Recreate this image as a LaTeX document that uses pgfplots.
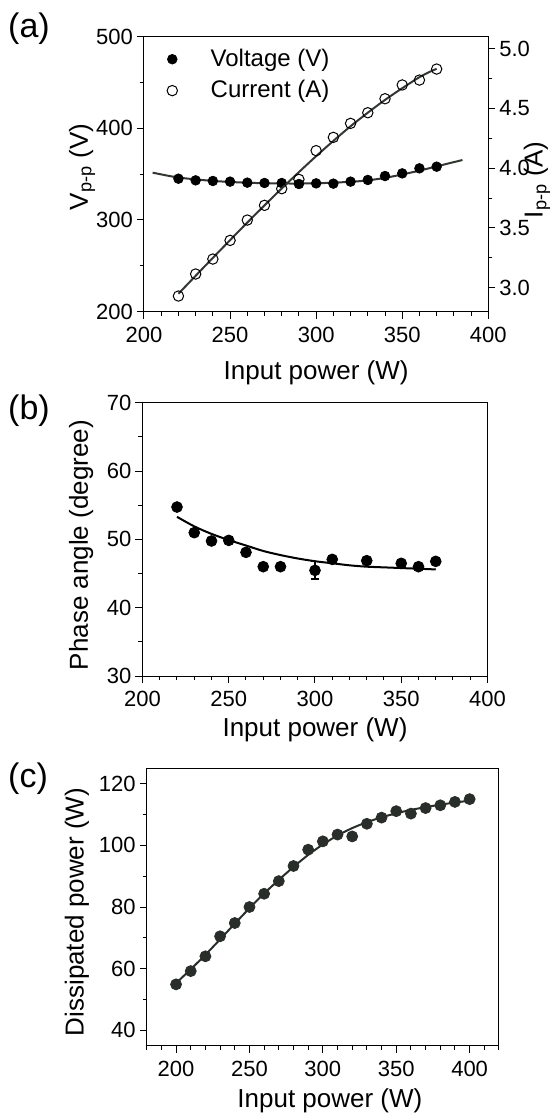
\documentclass[border=0pt]{standalone}
\usepackage{fontspec}
\setmainfont{Liberation Sans}
\usepackage{pgfplots}
\pgfplotsset{compat=1.18}

\definecolor{fitgray}{HTML}{333833}
\definecolor{markgray}{HTML}{2A2E2B}

\newcommand{\labfont}{\fontsize{13}{15}\selectfont}

\pgfplotsset{
  panel/.style={
    scale only axis,
    tick align=outside,
    xtick pos=left, ytick pos=left,
    major tick length=3.5pt, minor tick length=2pt,
    every tick/.style={black, line width=0.5pt},
    axis line style={line width=0.5pt},
    tick label style={font=\fontsize{11}{13}\selectfont},
    xticklabel shift=0.5pt, yticklabel shift=-1.5pt,
    /pgf/number format/assume math mode=true,
  },
}

\begin{document}
\begin{tikzpicture}
\path[use as bounding box] (0pt,0pt) rectangle (279.5pt,-557.5pt);

% ---------- (a) ----------
\begin{axis}[panel,
  at={(72pt,-18.25pt)}, anchor=north west,
  width=172.15pt, height=137.6pt,
  xmin=200, xmax=400, xtick={200,250,...,400}, minor xtick={200,210,...,400},
  ymin=200, ymax=500, ytick={200,300,400,500}, minor ytick={250,350,450},
  xlabel={Input power (W)},
  ylabel={V\textsubscript{p-p} (V)},
  every axis x label/.style={at={(axis description cs:0.5,-0.248)}, anchor=base, font=\labfont},
  every axis y label/.style={at={(axis description cs:-0.18,0.526)}, rotate=90, anchor=center, font=\labfont},
  legend style={draw=none, fill=none, font=\fontsize{12}{14}\selectfont,
    at={(axis description cs:0.045,0.985)}, anchor=north west, row sep=1.5pt},
  legend image code/.code={\path (0pt,0pt) (20pt,0pt); \draw[#1] plot coordinates {(3pt,0pt)};},
]
\addplot[fitgray, line width=1pt, smooth, forget plot] coordinates {
  (205,351.6) (220,346.3) (240,342.6) (260,340.6) (280,339.8) (300,340.0)
  (320,341.6) (330,343.2) (340,345.9) (350,349.6) (360,353.8) (370,358.4) (385,365.4)
};
\addplot[only marks, mark=*, mark size=2.4pt, black] coordinates {
  (220,345.0) (230,343.2) (240,342.5) (250,341.8) (260,340.7) (270,340.3)
  (280,340.3) (290,339.2) (300,339.9) (310,339.6) (320,341.8) (330,343.6)
  (340,347.9) (350,350.8) (360,356.3) (370,358.1)
};
\addlegendentry{Voltage (V)}
\addlegendimage{only marks, mark=o, mark size=2.6pt, black, mark options={line width=0.5pt}}
\addlegendentry{Current (A)}
\end{axis}

\begin{axis}[panel,
  at={(72pt,-18.25pt)}, anchor=north west,
  width=172.15pt, height=137.6pt,
  axis x line=none, axis y line*=right, ytick pos=right,
  xmin=200, xmax=400,
  ymin=2.8, ymax=5.1, ytick={3,3.5,...,5}, minor ytick={3.25,3.75,4.25,4.75},
  yticklabel style={/pgf/number format/.cd, fixed, fixed zerofill, precision=1},
  ylabel={I\textsubscript{p-p} (A)},
  every axis y label/.style={at={(axis description cs:1.1414,0.4786)}, rotate=90, anchor=center, font=\labfont},
]
\addplot[fitgray, line width=1pt, smooth] coordinates {
  (220,2.95) (240,3.25) (260,3.545) (280,3.83) (300,4.10) (320,4.35)
  (340,4.57) (360,4.76) (370,4.83)
};
\addplot[only marks, mark=o, mark size=2.6pt, black, mark options={line width=0.5pt}] coordinates {
  (220,2.931) (230,3.115) (240,3.240) (250,3.396) (260,3.566) (270,3.689)
  (280,3.828) (290,3.906) (300,4.146) (310,4.257) (320,4.374) (330,4.463)
  (340,4.580) (350,4.695) (360,4.736) (370,4.828)
};
\end{axis}

% ---------- (b) ----------
\begin{axis}[panel,
  at={(71.25pt,-201.35pt)}, anchor=north west,
  width=172.5pt, height=136.65pt,
  xmin=200, xmax=400, xtick={200,250,...,400}, minor xtick={200,210,...,400},
  ymin=30, ymax=70, ytick={30,40,...,70}, minor ytick={35,45,...,65},
  xlabel={Input power (W)},
  ylabel={Phase angle (degree)},
  every axis x label/.style={at={(axis description cs:0.5,-0.223)}, anchor=base, font=\labfont},
  every axis y label/.style={at={(axis description cs:-0.178,0.479)}, rotate=90, anchor=center, font=\labfont},
]
\addplot[black, line width=1pt, smooth] coordinates {
  (220,53.3) (230,51.9) (240,50.8) (250,49.9) (260,49.1) (270,48.3) (280,47.7)
  (290,47.2) (300,46.8) (310,46.5) (320,46.2) (330,46.0) (340,45.9) (350,45.8)
  (360,45.7) (370,45.6)
};
\addplot[only marks, mark=*, mark size=2.7pt, black,
  error bars/.cd, y dir=both, y explicit,
  error bar style={line width=0.8pt},
  error mark options={rotate=90, mark size=2pt, line width=0.8pt}]
  table[x=x, y=y, y error=e] {
x    y      e
220  54.73  0
230  50.98  0
240  49.76  0
250  49.85  0
260  48.10  0
270  46.00  0
280  46.00  0
300  45.46  1.3
310  47.07  0
330  46.88  0
350  46.49  0
360  46.00  0
370  46.78  0
};
\end{axis}

% ---------- (c) ----------
\begin{axis}[panel,
  at={(73.35pt,-384.15pt)}, anchor=north west,
  width=176.15pt, height=138.7pt,
  xmin=180, xmax=420, xtick={200,250,...,400}, minor xtick={180,190,...,420},
  ymin=35, ymax=125, ytick={40,60,...,120}, minor ytick={50,70,90,110},
  xlabel={Input power (W)},
  ylabel={Dissipated power (W)},
  every axis x label/.style={at={(axis description cs:0.52,-0.2235)}, anchor=base, font=\labfont},
  every axis y label/.style={at={(axis description cs:-0.198,0.482)}, rotate=90, anchor=center, font=\labfont},
]
\addplot[markgray, line width=1pt, smooth] coordinates {
  (200,55.3) (210,59.8) (220,64.5) (230,69.5) (240,74.6) (250,79.6) (260,84.4)
  (270,88.8) (280,93.0) (290,96.9) (300,100.3) (310,103.2) (320,105.6)
  (330,107.5) (340,109.1) (350,110.4) (360,111.5) (370,112.4) (380,113.2)
  (390,113.9) (400,114.5)
};
\addplot[only marks, mark=*, mark size=2.75pt, markgray] coordinates {
  (200,54.9) (210,59.2) (220,64.0) (230,70.5) (240,74.8) (250,80.0) (260,84.3)
  (270,88.4) (280,93.3) (290,98.6) (300,101.3) (310,103.5) (320,102.9)
  (330,107.0) (340,109.0) (350,111.1) (360,110.3) (370,112.1) (380,113.0)
  (390,114.1) (400,115.0)
};
\end{axis}

\node[font=\fontsize{17}{19}\selectfont] at (14.5pt,-14.5pt) {(a)};
\node[font=\fontsize{17}{19}\selectfont] at (14.5pt,-205.5pt) {(b)};
\node[font=\fontsize{17}{19}\selectfont] at (14pt,-389.5pt) {(c)};
\end{tikzpicture}
\end{document}
